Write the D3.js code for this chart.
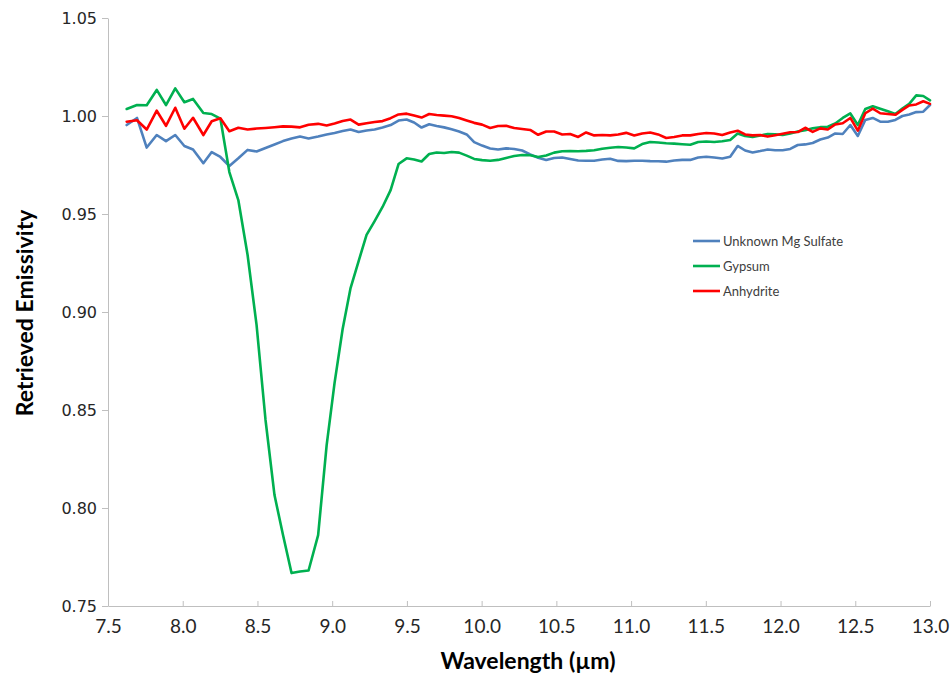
<!DOCTYPE html>
<html>
<head>
<meta charset="utf-8">
<script src="https://cdn.jsdelivr.net/npm/d3@7"></script>
<style>
  html, body { margin: 0; padding: 0; background: #fff; }
  svg { display: block; }
</style>
</head>
<body>
<svg id="chart" width="951" height="678"></svg>
<script>
const wavelength = [7.625,7.694,7.759,7.826,7.888,7.950,8.011,8.069,8.138,8.194,
  8.252,8.312,8.372,8.434,8.494,8.554,8.614,8.671,8.728,8.785,
  8.842,8.906,8.963,9.016,9.070,9.123,9.177,9.230,9.284,9.337,
  9.391,9.444,9.498,9.548,9.598,9.649,9.699,9.749,9.799,9.849,
  9.900,9.950,10.003,10.057,10.110,10.164,10.218,10.271,10.325,10.378,
  10.432,10.485,10.539,10.592,10.646,10.699,10.753,10.807,10.860,10.914,
  10.967,11.021,11.074,11.128,11.181,11.235,11.288,11.342,11.396,11.449,
  11.503,11.556,11.610,11.663,11.713,11.763,11.813,11.864,11.914,11.964,
  12.014,12.065,12.115,12.165,12.215,12.266,12.316,12.366,12.416,12.467,
  12.517,12.567,12.617,12.667,12.718,12.768,12.815,12.861,12.908,12.955,13.000];

const mgSulfate = [0.9954,0.9990,0.9839,0.9903,0.9872,0.9903,0.9847,0.9829,0.9759,0.9816,
  0.9791,0.9745,0.9784,0.9827,0.9819,0.9837,0.9855,0.9872,0.9885,0.9895,
  0.9885,0.9895,0.9906,0.9913,0.9923,0.9931,0.9918,0.9926,0.9931,0.9941,
  0.9954,0.9977,0.9982,0.9967,0.9941,0.9958,0.9949,0.9942,0.9932,0.9921,
  0.9906,0.9867,0.9849,0.9834,0.9829,0.9835,0.9832,0.9824,0.9804,0.9787,
  0.9776,0.9786,0.9788,0.9781,0.9773,0.9772,0.9772,0.9778,0.9782,0.9771,
  0.9770,0.9772,0.9772,0.9770,0.9769,0.9767,0.9773,0.9776,0.9776,0.9788,
  0.9792,0.9788,0.9783,0.9792,0.9847,0.9824,0.9814,0.9821,0.9829,0.9825,
  0.9825,0.9832,0.9852,0.9855,0.9862,0.9880,0.9890,0.9911,0.9908,0.9954,
  0.9898,0.9980,0.9990,0.9971,0.9971,0.9980,1.0000,1.0008,1.0020,1.0022,1.0056];

const gypsum = [1.0036,1.0056,1.0055,1.0133,1.0056,1.0141,1.0070,1.0087,1.0015,1.0010,
  0.9987,0.9714,0.9571,0.9291,0.8934,0.8449,0.8066,0.7862,0.7668,0.7676,
  0.7681,0.7862,0.8321,0.8638,0.8913,0.9122,0.9260,0.9393,0.9464,0.9536,
  0.9622,0.9755,0.9784,0.9778,0.9768,0.9806,0.9814,0.9811,0.9816,0.9813,
  0.9798,0.9781,0.9775,0.9772,0.9776,0.9786,0.9796,0.9801,0.9800,0.9791,
  0.9798,0.9813,0.9820,0.9821,0.9820,0.9822,0.9825,0.9833,0.9838,0.9842,
  0.9839,0.9835,0.9857,0.9867,0.9865,0.9861,0.9859,0.9856,0.9853,0.9867,
  0.9870,0.9867,0.9871,0.9878,0.9911,0.9898,0.9893,0.9901,0.9908,0.9907,
  0.9903,0.9911,0.9921,0.9927,0.9937,0.9943,0.9945,0.9962,0.9990,1.0013,
  0.9954,1.0036,1.0050,1.0037,1.0024,1.0010,1.0038,1.0062,1.0105,1.0102,1.0080];

const anhydrite = [0.9971,0.9978,0.9931,1.0027,0.9950,1.0042,0.9935,0.9991,0.9903,0.9973,
  0.9988,0.9922,0.9940,0.9931,0.9936,0.9939,0.9943,0.9947,0.9946,0.9942,
  0.9955,0.9960,0.9952,0.9962,0.9974,0.9982,0.9956,0.9963,0.9969,0.9974,
  0.9989,1.0008,1.0012,1.0002,0.9992,1.0010,1.0005,1.0002,0.9999,0.9990,
  0.9977,0.9965,0.9956,0.9939,0.9949,0.9950,0.9939,0.9934,0.9929,0.9904,
  0.9921,0.9921,0.9906,0.9908,0.9893,0.9916,0.9901,0.9903,0.9901,0.9906,
  0.9914,0.9901,0.9911,0.9916,0.9906,0.9888,0.9893,0.9901,0.9901,0.9908,
  0.9913,0.9911,0.9903,0.9916,0.9925,0.9906,0.9901,0.9903,0.9895,0.9902,
  0.9909,0.9917,0.9918,0.9940,0.9919,0.9937,0.9931,0.9957,0.9963,0.9990,
  0.9925,1.0014,1.0038,1.0014,1.0010,1.0006,1.0031,1.0054,1.0059,1.0075,1.0062];

const seriesNames = ["Unknown Mg Sulfate", "Gypsum", "Anhydrite"];
const seriesColors = ["#4f81bd", "#00b050", "#ff0000"];
const xTicks = [7.5,8.0,8.5,9.0,9.5,10.0,10.5,11.0,11.5,12.0,12.5,13.0];
const yTicks = [0.75,0.80,0.85,0.90,0.95,1.00,1.05];

(function () {
const svg = d3.select("#chart");
const mLeft = 108, mRight = 930, mTop = 18, mBottom = 606;

const x = d3.scaleLinear().domain([7.5, 13.0]).range([mLeft, mRight]);
const y = d3.scaleLinear().domain([0.75, 1.05]).range([mBottom, mTop]);

// Y axis
const yAxis = svg.append("g")
  .attr("transform", `translate(${mLeft},0)`)
  .call(d3.axisLeft(y).tickValues(yTicks).tickFormat(d3.format(".2f"))
    .tickSizeInner(6).tickSizeOuter(0).tickPadding(5));
yAxis.select(".domain").attr("stroke", "#bfbfbf").attr("stroke-width", 1);
yAxis.selectAll(".tick line").attr("stroke", "#bfbfbf");
yAxis.selectAll(".tick text")
  .attr("fill", "#262626")
  .style("font-family", "'DejaVu Sans', Verdana, sans-serif")
  .style("font-size", "16px");

// X axis
const xAxis = svg.append("g")
  .attr("transform", `translate(0,${mBottom})`)
  .call(d3.axisBottom(x).tickValues(xTicks).tickFormat(d3.format(".1f"))
    .tickSizeInner(-5).tickSizeOuter(0).tickPadding(14));
xAxis.select(".domain").attr("stroke", "#bfbfbf").attr("stroke-width", 1);
xAxis.selectAll(".tick line").attr("stroke", "#bfbfbf");
xAxis.selectAll(".tick text")
  .attr("fill", "#262626")
  .style("font-family", "Lato, 'Open Sans', sans-serif")
  .style("font-size", "19px");

// Lines
const seriesData = [mgSulfate, gypsum, anhydrite];
const line = d3.line()
  .x((d, i) => x(wavelength[i]))
  .y(d => y(d));

seriesData.forEach((vals, k) => {
  svg.append("path")
    .datum(vals)
    .attr("fill", "none")
    .attr("stroke", seriesColors[k])
    .attr("stroke-width", 2.6)
    .attr("stroke-linejoin", "round")
    .attr("stroke-linecap", "round")
    .attr("d", line);
});

// Axis titles
svg.append("text")
  .attr("x", 528).attr("y", 669)
  .attr("text-anchor", "middle")
  .style("font-family", "Lato, 'Open Sans', sans-serif")
  .style("font-weight", "bold")
  .style("font-size", "23px")
  .attr("fill", "#000")
  .text("Wavelength (µm)");

svg.append("text")
  .attr("transform", "translate(33,313) rotate(-90)")
  .attr("text-anchor", "middle")
  .style("font-family", "Lato, 'Open Sans', sans-serif")
  .style("font-weight", "bold")
  .style("font-size", "23px")
  .attr("fill", "#000")
  .text("Retrieved Emissivity");

// Legend
const legend = svg.append("g").attr("transform", "translate(693,241)");
seriesNames.forEach((name, k) => {
  const g = legend.append("g").attr("transform", `translate(0,${k * 25})`);
  g.append("line")
    .attr("x1", 0).attr("x2", 27).attr("y1", 0).attr("y2", 0)
    .attr("stroke", seriesColors[k]).attr("stroke-width", 2.6);
  g.append("text")
    .attr("x", 30).attr("y", 0).attr("dy", "0.35em")
    .style("font-family", "Lato, 'Open Sans', sans-serif")
    .style("font-size", "13px")
    .attr("fill", "#404040")
    .text(name);
});
})();
</script>
</body>
</html>
